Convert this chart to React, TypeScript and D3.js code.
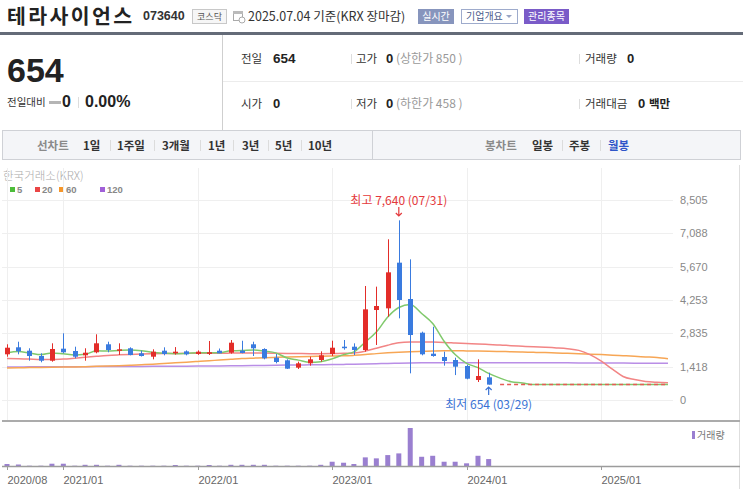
import React from 'react';
import * as d3 from 'd3';

// monthly axis: 2020/08 .. 2025/07
const months = d3.timeMonth.range(new Date(2020, 7, 1), new Date(2025, 7, 1));

// monthly candles 2020/08 .. 2024/03
const opens = [1943, 2241, 2097, 1871, 1671, 2182, 2084, 1901, 2028, 2369, 2097, 2199, 1986, 1841, 2097, 1986, 2069, 1956, 1960, 2097, 2012, 2100, 2369, 2169, 1799, 1688, 1375, 1560, 1701, 1956, 2267, 2267, 2126, 3827, 3898, 5840, 4295, 2862, 1969, 1829, 1701, 1446, 850, 965];
const highs = [2369, 2479, 2199, 1986, 2411, 2836, 2267, 2199, 2794, 2479, 2411, 2240, 2100, 2155, 2240, 2250, 2110, 2110, 2509, 2190, 2550, 2520, 2479, 2199, 1956, 1730, 1630, 1843, 2069, 2522, 2552, 2410, 4848, 4820, 6834, 7640, 5982, 2906, 3117, 2055, 1800, 1500, 1730, 1161];
const lows = [1841, 1943, 1671, 1603, 1629, 1986, 1773, 1671, 1986, 2028, 1914, 1900, 1850, 1730, 1900, 1930, 1900, 1920, 1914, 1990, 1970, 1986, 1871, 1730, 1560, 1318, 1318, 1460, 1630, 1871, 2140, 1914, 2055, 2339, 3543, 3473, 1134, 1900, 1841, 1460, 1060, 880, 765, 654];
const closes = [2224, 2071, 1871, 1671, 2169, 2028, 1841, 2012, 2411, 2126, 2155, 1914, 1871, 2055, 1956, 2055, 1943, 2055, 2030, 1985, 2437, 2000, 2199, 1773, 1616, 1332, 1560, 1730, 1901, 2224, 2240, 2126, 3855, 3997, 5429, 4253, 2764, 1943, 1871, 1659, 1417, 906, 1020, 654];
const volumes = [200, 150, 30, 30, 230, 230, 30, 120, 120, 30, 120, 30, 30, 30, 30, 100, 30, 30, 100, 30, 120, 120, 120, 120, 30, 30, 30, 30, 120, 430, 330, 200, 870, 770, 1100, 1270, 3830, 930, 1030, 430, 430, 270, 1030, 700];

// trading halt 2024/04 .. 2025/07
const haltedCloses = [654, 654, 654, 654, 654, 654, 654, 654, 654, 654, 654, 654, 654, 654, 654, 654];

// moving averages, 2020/08 .. 2025/07
const ma5 = [2010, 2060, 2000, 1930, 2001, 1962, 1916, 1944, 2092, 2084, 2109, 2124, 2095, 2024, 1990, 1970, 1976, 2013, 2008, 2014, 2090, 2101, 2130, 2079, 2005, 1784, 1696, 1602, 1628, 1749, 1931, 2044, 2469, 2888, 3529, 3932, 4060, 3677, 3252, 2498, 1931, 1559, 1375, 1131, 930, 778, 727, 654, 654, 654, 654, 654, 654, 654, 654, 654, 654, 654, 654, 654];
const ma20 = [1770, 1755, 1740, 1725, 1720, 1740, 1780, 1820, 1860, 1895, 1920, 1940, 1955, 1965, 1975, 1980, 1985, 1985, 1990, 1990, 1995, 2000, 2000, 1995, 1990, 1980, 1975, 1970, 1970, 1975, 1985, 2000, 2080, 2200, 2330, 2430, 2465, 2470, 2465, 2450, 2425, 2400, 2380, 2360, 2340, 2310, 2285, 2260, 2240, 2215, 2180, 2110, 1930, 1650, 1300, 1000, 870, 790, 755, 736];
const ma60 = [1365, 1372, 1378, 1385, 1392, 1400, 1408, 1418, 1430, 1444, 1460, 1478, 1498, 1522, 1550, 1580, 1610, 1640, 1670, 1700, 1730, 1760, 1780, 1798, 1813, 1828, 1842, 1855, 1865, 1872, 1878, 1898, 1930, 1972, 2008, 2035, 2055, 2070, 2085, 2095, 2095, 2088, 2080, 2072, 2062, 2052, 2040, 2028, 2015, 2000, 1985, 1968, 1950, 1930, 1908, 1885, 1860, 1833, 1805, 1750];
const ma120 = [1405, 1407, 1409, 1411, 1413, 1415, 1417, 1419, 1421, 1423, 1425, 1427, 1429, 1431, 1434, 1437, 1440, 1443, 1446, 1450, 1454, 1458, 1465, 1472, 1478, 1484, 1490, 1496, 1502, 1508, 1514, 1520, 1530, 1542, 1555, 1566, 1575, 1582, 1586, 1588, 1589, 1589, 1588, 1587, 1586, 1585, 1584, 1583, 1582, 1581, 1580, 1578, 1576, 1574, 1572, 1570, 1568, 1566, 1564, 1562];

const yTicks = [0, 1418, 2835, 4253, 5670, 7088, 8505];
const dateTicks = ['2020/08', '2021/01', '2022/01', '2023/01', '2024/01', '2025/01'];

const maSeries = [
  { label: '5', values: ma5, color: '#80c96c', key: '#4cbd3a' },
  { label: '20', values: ma20, color: '#f28585', key: '#ea4545' },
  { label: '60', values: ma60, color: '#f7a655', key: '#f5962a' },
  { label: '120', values: ma120, color: '#b98ee6', key: '#a160d8' },
];

const KR = '"Noto Sans CJK KR", "Noto Sans", sans-serif';
const NUM = '"Liberation Sans", Arial, sans-serif';
const UP = '#e32d29';
const DOWN = '#3a7bdf';

const App: React.FC = () => {
  const x = d3.scaleTime().domain([months[0], months[months.length - 1]]).range([7, 668]);
  const y = d3.scaleLinear().domain([0, 8505]).range([400, 200]);
  const yv = d3.scaleLinear().domain([0, d3.max(volumes) || 1]).range([466, 428]);
  const parse = d3.timeParse('%Y/%m');

  const line = (vals: number[], offset = 0) =>
    d3.line<number>()
      .x((_, i) => x(months[i + offset]))
      .y(d => y(d))
      .curve(d3.curveMonotoneX)(vals) || '';

  const hiIdx = d3.maxIndex(highs);
  const loIdx = d3.minIndex(lows);

  return (
    <div>
      <style>{'body{margin:0}'}</style>
      <svg width={743} height={489} style={{ display: 'block', background: '#fff' }}>
        {/* header */}
        <text x={7} y={24} fontFamily={KR} fontSize={20.5} fontWeight={700} letterSpacing={2.4} fill="#222">테라사이언스</text>
        <text x={143} y={20} fontFamily={NUM} fontSize={12.5} fontWeight={700} fill="#333">073640</text>
        <rect x={192.5} y={9.5} width={34} height={14} fill="#f6f6f6" stroke="#c8c8c8" />
        <text x={209.5} y={20} textAnchor="middle" fontFamily={KR} fontSize={9} fill="#555">코스닥</text>
        <rect x={233.5} y={11.5} width={9} height={9} fill="none" stroke="#aaa" />
        <rect x={233} y={11} width={10} height={3} fill="#bbb" />
        <circle cx={242} cy={20} r={3} fill="#fff" stroke="#aaa" />
        <text x={248} y={21} fontFamily={KR} fontSize={12.5} fill="#333">2025.07.04 기준(KRX 장마감)</text>
        <rect x={418} y={9} width={36} height={15} fill="#8795bd" />
        <text x={436} y={20} textAnchor="middle" fontFamily={KR} fontSize={10} fill="#fff">실시간</text>
        <rect x={461.5} y={9.5} width={56} height={14} fill="#fff" stroke="#9eabcc" />
        <text x={466} y={20} fontFamily={KR} fontSize={10} fill="#4b5b8c">기업개요</text>
        <path d="M506,15 L512,15 L509,18 Z" fill="#98a4c4" />
        <rect x={524} y={9} width={45} height={15} fill="#7a5bc8" />
        <text x={546.5} y={20} textAnchor="middle" fontFamily={KR} fontSize={10} fill="#fff">관리종목</text>
        <rect x={0} y={32} width={743} height={3} fill="#646b78" />

        {/* quote panel */}
        <line x1={222.5} y1={35} x2={222.5} y2={130} stroke="#cfcfcf" />
        <line x1={223} y1={81.5} x2={743} y2={81.5} stroke="#ececec" />
        <text x={7} y={82} fontFamily={NUM} fontSize={34} fontWeight={700} fill="#222">654</text>
        <text x={7} y={106} fontFamily={KR} fontSize={10.5} fill="#333">전일대비</text>
        <rect x={49} y={101} width={12} height={3} fill="#b5b5b5" />
        <text x={62} y={107} fontFamily={NUM} fontSize={16} fontWeight={700} fill="#222">0</text>
        <line x1={78.5} y1={97} x2={78.5} y2={108} stroke="#ddd" />
        <text x={85} y={107} fontFamily={NUM} fontSize={16} fontWeight={700} fill="#222">0.00%</text>

        {[63, 108].map(by => (
          <g key={by}>
            <line x1={351.5} y1={by - 9} x2={351.5} y2={by + 1} stroke="#ddd" />
            <line x1={579.5} y1={by - 9} x2={579.5} y2={by + 1} stroke="#ddd" />
          </g>
        ))}
        <text x={241} y={63} fontFamily={KR} fontSize={11.5} fill="#333">전일</text>
        <text x={273} y={63} fontFamily={NUM} fontSize={13.5} fontWeight={700} fill="#222">654</text>
        <text x={356} y={63} fontFamily={KR} fontSize={11.5} fill="#333">고가</text>
        <text x={386} y={63} fontFamily={NUM} fontSize={13} fontWeight={700} fill="#222">0</text>
        <text x={396} y={63} fontFamily={KR} fontSize={12} fill="#999">(상한가 850 )</text>
        <text x={585} y={63} fontFamily={KR} fontSize={11.5} fill="#333">거래량</text>
        <text x={627} y={63} fontFamily={NUM} fontSize={13} fontWeight={700} fill="#222">0</text>

        <text x={241} y={108} fontFamily={KR} fontSize={11.5} fill="#333">시가</text>
        <text x={273} y={108} fontFamily={NUM} fontSize={13} fontWeight={700} fill="#222">0</text>
        <text x={356} y={108} fontFamily={KR} fontSize={11.5} fill="#333">저가</text>
        <text x={386} y={108} fontFamily={NUM} fontSize={13} fontWeight={700} fill="#222">0</text>
        <text x={396} y={108} fontFamily={KR} fontSize={12} fill="#999">(하한가 458 )</text>
        <text x={585} y={108} fontFamily={KR} fontSize={11.5} fill="#333">거래대금</text>
        <text x={638} y={108} fontFamily={NUM} fontSize={13} fontWeight={700} fill="#222">0</text>
        <text x={649} y={108} fontFamily={KR} fontSize={11.5} fontWeight={700} fill="#222">백만</text>

        {/* period tabs */}
        <rect x={2.5} y={130.5} width={738} height={29} fill="#f4f5f8" stroke="#cfd1d6" />
        <line x1={372.5} y1={130} x2={372.5} y2={160} stroke="#cfd1d6" />
        <text x={37} y={150} fontFamily={KR} fontSize={11.5} fontWeight={700} fill="#8a8a8a">선차트</text>
        {[
          ['1일', 83], ['1주일', 117], ['3개월', 162], ['1년', 208], ['3년', 242], ['5년', 275], ['10년', 308],
        ].map(([t, px]) => (
          <text key={t as string} x={px as number} y={150} fontFamily={KR} fontSize={11.5} fontWeight={700} fill="#333">{t}</text>
        ))}
        {[110, 154, 200, 233, 268, 301].map(px => (
          <line key={px} x1={px + 0.5} y1={140} x2={px + 0.5} y2={151} stroke="#dcdcdc" />
        ))}
        <text x={485} y={150} fontFamily={KR} fontSize={11.5} fontWeight={700} fill="#8a8a8a">봉차트</text>
        <text x={532} y={150} fontFamily={KR} fontSize={11.5} fontWeight={700} fill="#333">일봉</text>
        <line x1={562.5} y1={140} x2={562.5} y2={151} stroke="#dcdcdc" />
        <text x={569} y={150} fontFamily={KR} fontSize={11.5} fontWeight={700} fill="#333">주봉</text>
        <line x1={600.5} y1={140} x2={600.5} y2={151} stroke="#dcdcdc" />
        <text x={608} y={150} fontFamily={KR} fontSize={11.5} fontWeight={700} fill="#2f55c8">월봉</text>

        {/* chart legend */}
        <text x={3} y={180} fontFamily={KR} fontSize={11.5} fontWeight={300} fill="#aaa">한국거래소(KRX)</text>
        {maSeries.map((s, i) => {
          const lx = [10, 35, 59, 100][i];
          return (
            <g key={s.label}>
              <rect x={lx} y={187} width={5} height={5} fill={s.key} />
              <text x={lx + 7} y={193} fontFamily={NUM} fontSize={9.5} fontWeight={700} fill="#888">{s.label}</text>
            </g>
          );
        })}

        {/* grid */}
        {yTicks.map(t => (
          <g key={t}>
            <line x1={2} x2={673} y1={Math.round(y(t)) + 0.5} y2={Math.round(y(t)) + 0.5} stroke="#efefef" />
            <text x={680} y={y(t)} dy="0.35em" fontFamily={NUM} fontSize={11} fill="#888">{d3.format(',')(t)}</text>
          </g>
        ))}
        {dateTicks.map(d => {
          const px = Math.round(x(parse(d) as Date)) + 0.5;
          return <line key={d} x1={px} x2={px} y1={168} y2={421} stroke="#efefef" />;
        })}
        <line x1={739.5} x2={739.5} y1={165} y2={489} stroke="#dedede" />

        {/* moving averages */}
        {maSeries.slice().reverse().map(s => (
          <path key={s.label} d={line(s.values)} fill="none" stroke={s.color} strokeWidth={1.5} />
        ))}
        <path d={line(haltedCloses, closes.length)} fill="none" stroke="#e65a55" strokeWidth={1.5} strokeDasharray="4,3" />

        {/* candles */}
        {closes.map((c, i) => {
          const cx = Math.round(x(months[i])) + 0.5;
          const o = opens[i];
          const col = c >= o ? UP : DOWN;
          const top = y(Math.max(o, c));
          const h = Math.max(1.5, y(Math.min(o, c)) - top);
          return (
            <g key={i}>
              <line x1={cx} x2={cx} y1={y(highs[i])} y2={y(lows[i])} stroke={col} strokeWidth={1} />
              <rect x={cx - 2.5} y={top} width={5} height={h} fill={col} />
            </g>
          );
        })}

        {/* high / low marks */}
        <text x={x(months[hiIdx])} y={205} textAnchor="middle" fontFamily={KR} fontSize={12} fill="#e4393c">최고 7,640 (07/31)</text>
        <path d={`M${x(months[hiIdx])},207 V216 M${x(months[hiIdx]) - 3},213 L${x(months[hiIdx])},216 L${x(months[hiIdx]) + 3},213`} fill="none" stroke="#e4393c" strokeWidth={1.2} />
        <text x={x(months[loIdx])} y={409} textAnchor="middle" fontFamily={KR} fontSize={12} fill="#3a72d4">최저 654 (03/29)</text>
        <path d={`M${x(months[loIdx])},395 V387 M${x(months[loIdx]) - 3},390 L${x(months[loIdx])},387 L${x(months[loIdx]) + 3},390`} fill="none" stroke="#3a72d4" strokeWidth={1.2} />

        {/* volume panel */}
        <rect x={2} y={420} width={738} height={2} fill="#ababab" />
        {volumes.map((v, i) => (
          <rect key={i} x={x(months[i]) - 2.5} y={yv(v)} width={5} height={466 - yv(v)} fill="#9a7fd0" />
        ))}
        <rect x={692} y={431} width={3} height={8} fill="#9a7fd0" />
        <text x={697} y={439} fontFamily={KR} fontSize={10} fill="#777">거래량</text>
        <line x1={2} x2={740} y1={466.5} y2={466.5} stroke="#9c9c9c" strokeWidth={1.5} />
        {dateTicks.map(d => {
          const px = Math.round(x(parse(d) as Date)) + 0.5;
          return (
            <g key={d}>
              <line x1={px} x2={px} y1={466} y2={470} stroke="#9c9c9c" />
              <text x={px} y={484} fontFamily={NUM} fontSize={11} fill="#666">{d}</text>
            </g>
          );
        })}
      </svg>
    </div>
  );
};

export default App;
